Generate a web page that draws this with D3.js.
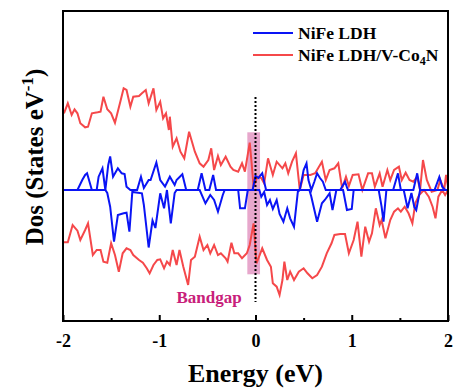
<!DOCTYPE html>
<html><head><meta charset="utf-8">
<script src="https://cdn.jsdelivr.net/npm/d3@7"></script>
<style>body{margin:0;background:#fff}svg{display:block}text{font-family:"Liberation Serif","Times New Roman",serif;font-weight:bold}</style>
</head><body><div id="chart"></div>
<script>
// Energy (eV), DOS (arb. units)
const redUp = [[-1.99,7.67],[-1.95,8.67],[-1.91,7.5],[-1.88,8.07],[-1.85,7.67],[-1.82,6.67],[-1.77,6.27],[-1.74,6.33],[-1.70,7.67],[-1.64,7.77],[-1.61,7.83],[-1.58,9.33],[-1.54,8.07],[-1.50,7.67],[-1.46,6.73],[-1.40,9.0],[-1.37,10.17],[-1.34,10.0],[-1.30,8.33],[-1.27,9.33],[-1.21,9.4],[-1.18,9.67],[-1.14,10.0],[-1.11,8.67],[-1.06,10.17],[-1.03,8.0],[-0.99,8.83],[-0.96,7.17],[-0.93,7.67],[-0.90,6.0],[-0.89,7.33],[-0.86,4.33],[-0.82,5.17],[-0.78,3.83],[-0.74,3.17],[-0.69,5.83],[-0.66,4.83],[-0.63,3.83],[-0.58,2.67],[-0.54,2.33],[-0.49,3.0],[-0.46,4.17],[-0.43,2.0],[-0.39,3.4],[-0.36,2.5],[-0.31,3.33],[-0.26,2.33],[-0.23,2.0],[-0.18,1.83],[-0.14,2.67],[-0.11,1.83],[-0.06,4.73],[-0.04,2.67],[-0.02,0.33],[0.02,1.33],[0.06,1.2],[0.09,0.67],[0.13,3.17],[0.18,1.5],[0.22,2.83],[0.28,2.17],[0.31,2.67],[0.34,1.67],[0.38,2.83],[0.42,3.67],[0.46,0],[0.50,1.5],[0.57,1.5],[0.62,1.67],[0.69,2.83],[0.73,1.0],[0.77,2.0],[0.82,2.17],[0.86,2.67],[0.90,0.17],[0.94,1.33],[0.97,0.4],[1.01,1.5],[1.07,1.57],[1.11,0],[1.17,1.67],[1.21,1.67],[1.24,0.33],[1.29,1.67],[1.32,0.33],[1.37,2.0],[1.40,1.0],[1.44,2.0],[1.49,2.33],[1.52,1.0],[1.56,1.73],[1.60,1.0],[1.64,0.83],[1.68,1.33],[1.71,0],[1.74,3.0],[1.78,1.0],[1.83,-0.17],[1.89,0],[1.92,1.0],[1.96,0],[1.98,1.5],[2.00,0.33]];
const redDown = [[-1.99,-5.23],[-1.95,-5.23],[-1.90,-3.5],[-1.85,-4.07],[-1.82,-5.0],[-1.77,-4.0],[-1.74,-3.33],[-1.69,-6.5],[-1.65,-6.0],[-1.61,-6.0],[-1.58,-7.17],[-1.54,-7.27],[-1.50,-5.33],[-1.46,-6.5],[-1.42,-8.17],[-1.38,-6.33],[-1.34,-5.83],[-1.30,-6.0],[-1.27,-6.5],[-1.21,-7.0],[-1.17,-7.27],[-1.13,-7.83],[-1.10,-8.33],[-1.06,-7.5],[-1.02,-7.0],[-0.99,-6.93],[-0.95,-7.83],[-0.92,-7.17],[-0.89,-7.5],[-0.86,-6.0],[-0.82,-7.5],[-0.79,-6.0],[-0.75,-7.67],[-0.70,-9.5],[-0.67,-7.0],[-0.63,-6.67],[-0.58,-4.67],[-0.54,-6.0],[-0.50,-5.5],[-0.47,-6.33],[-0.43,-5.5],[-0.39,-6.5],[-0.36,-6.33],[-0.31,-6.83],[-0.29,-7.17],[-0.25,-5.27],[-0.22,-6.33],[-0.18,-6.33],[-0.14,-6.83],[-0.09,-6.33],[-0.06,-5.5],[-0.02,-3.33],[0.01,-7.33],[0.05,-6.33],[0.07,-5.83],[0.12,-7.0],[0.16,-7.67],[0.18,-9.33],[0.22,-9.67],[0.25,-10.5],[0.28,-9.0],[0.30,-7.17],[0.33,-9.0],[0.36,-8.17],[0.40,-9.0],[0.45,-8.17],[0.50,-7.83],[0.54,-8.33],[0.59,-8.83],[0.64,-8.5],[0.69,-7.67],[0.74,-6.33],[0.79,-5.33],[0.82,-4.5],[0.88,-4.4],[0.93,-4.4],[0.97,-6.33],[1.02,-5.0],[1.06,-3.17],[1.10,-6.67],[1.14,-3.67],[1.18,-5.17],[1.21,-4.33],[1.25,-1.83],[1.29,-3.5],[1.31,-3.0],[1.35,-4.83],[1.40,-3.0],[1.44,-2.17],[1.48,-1.83],[1.51,-2.17],[1.55,-1.67],[1.59,-2.33],[1.63,-3.33],[1.66,-1.33],[1.70,-0.5],[1.75,0],[1.80,-0.67],[1.84,-1.67],[1.87,-2.83],[1.90,-0.67],[1.94,0],[1.97,-0.5],[2.00,0]];
const blueUp = [[-2.00,0],[-1.85,0],[-1.80,1.0],[-1.77,1.5],[-1.75,1.67],[-1.70,0],[-1.65,0],[-1.63,1.33],[-1.59,2.17],[-1.56,0],[-1.53,2.5],[-1.51,3.35],[-1.48,1.33],[-1.43,2.17],[-1.39,1.67],[-1.36,1.6],[-1.34,0.33],[-1.30,0],[-1.23,0],[-1.19,1.33],[-1.16,0.2],[-1.11,1.0],[-1.09,1.0],[-1.03,2.75],[-0.99,1.0],[-0.94,0.35],[-0.89,1.33],[-0.84,0.5],[-0.82,1.0],[-0.76,1.57],[-0.72,0],[-0.60,0],[-0.56,1.67],[-0.52,0],[-0.48,0],[-0.44,1.5],[-0.41,0],[-0.03,0],[0.00,1.4],[0.03,1.2],[0.07,1.67],[0.11,0],[0.46,0],[0.50,2.0],[0.53,2.67],[0.55,1.0],[0.58,0],[0.61,0.8],[0.64,1.67],[0.67,1.2],[0.70,0.83],[0.73,0],[0.88,0],[0.93,0.83],[0.96,0],[1.43,0],[1.48,1.67],[1.51,0],[1.64,0],[1.68,1.67],[1.71,0],[1.86,0],[1.91,1.3],[1.94,0.33],[1.97,0],[2.00,0]];
const blueDown = [[-2.00,0],[-1.56,0],[-1.54,-0.3],[-1.51,-1.67],[-1.47,-5.17],[-1.43,-2.5],[-1.37,-2.33],[-1.34,-2.27],[-1.31,-4.17],[-1.28,-0.2],[-1.18,-0.33],[-1.16,-1.5],[-1.11,-5.75],[-1.07,-3.05],[-1.04,-3.8],[-0.99,-0.33],[-0.95,-1.83],[-0.92,0],[-0.88,-3.33],[-0.84,-0.3],[-0.82,0],[-0.58,0],[-0.52,-1.33],[-0.47,-0.5],[-0.43,-1.0],[-0.39,-2.17],[-0.34,-0.5],[-0.32,0],[-0.18,0],[-0.16,-1.83],[-0.11,-1.83],[-0.08,0],[0.04,0],[0.06,-0.67],[0.09,-0.2],[0.12,-1.5],[0.15,-1.0],[0.18,-1.9],[0.22,-1.0],[0.25,-2.4],[0.29,-3.17],[0.33,-1.83],[0.36,-2.83],[0.40,-3.67],[0.44,-0.17],[0.46,0],[0.56,0],[0.58,-0.67],[0.64,-3.17],[0.69,-1.33],[0.72,-1.0],[0.77,-0.33],[0.80,-2.0],[0.84,0],[0.91,0],[0.95,-2.0],[1.00,-1.9],[1.02,0],[1.28,0],[1.31,-1.67],[1.33,-3.17],[1.36,0],[1.54,0],[1.58,-1.83],[1.62,-0.3],[1.65,-1.7],[1.67,-2.0],[1.71,0],[2.00,0]];
const xTicks = [-2, -1, 0, 1, 2];
const xMinorTicks = [-1.5, -0.5, 0.5, 1.5];
const seriesNames = ["NiFe LDH", "NiFe LDH/V-Co4N"];
const seriesColors = ["#0a14f5", "#f5484a"];
const bandgapRange = [-0.085, 0.047];
const bandgapDos = [5.77, -8.43];
const fermiDos = [9.3, -11.2];

const W = 453, H = 390;
const m = {l: 63, r: 5, t: 11, b: 69};
const svg = d3.select("#chart").append("svg").attr("width", W).attr("height", H);
const x = d3.scaleLinear().domain([-2, 2]).range([m.l, W - m.r]);
const y = d3.scaleLinear().domain([-13.1, 17.9]).range([H - m.b, m.t]);

// bandgap bar
svg.append("rect")
  .attr("x", x(bandgapRange[0])).attr("width", x(bandgapRange[1]) - x(bandgapRange[0]))
  .attr("y", y(bandgapDos[0])).attr("height", y(bandgapDos[1]) - y(bandgapDos[0]))
  .attr("fill", "#d0509a").attr("fill-opacity", 0.5);

const line = d3.line().x(d => x(d[0])).y(d => y(d[1]));
const draw = (data, color) => svg.append("path").datum(data).attr("d", line)
  .attr("fill", "none").attr("stroke", color).attr("stroke-width", 2).attr("stroke-linejoin", "miter");

draw(redUp, seriesColors[1]);
draw(redDown, seriesColors[1]);
draw(blueUp, seriesColors[0]);
draw(blueDown, seriesColors[0]);

// Fermi level dotted line
svg.append("line").attr("x1", x(0)).attr("x2", x(0)).attr("y1", y(fermiDos[0])).attr("y2", y(fermiDos[1]))
  .attr("stroke", "#000").attr("stroke-width", 2).attr("stroke-dasharray", "2,2");

svg.append("text").attr("x", 209).attr("y", 303).attr("text-anchor", "middle")
  .attr("font-size", 17).attr("fill", "#c8207a").text("Bandgap");

// frame
svg.append("rect").attr("x", m.l).attr("y", m.t).attr("width", W - m.l - m.r).attr("height", H - m.t - m.b)
  .attr("fill", "none").attr("stroke", "#000").attr("stroke-width", 2);

// x axis
const xAxis = svg.append("g").attr("transform", `translate(0,${H - m.b})`)
  .call(d3.axisBottom(x).tickValues(xTicks).tickSize(-6).tickPadding(13).tickFormat(d3.format("d")));
xAxis.select(".domain").remove();
xAxis.selectAll("line").attr("stroke-width", 2);
xAxis.selectAll("text").attr("font-size", 18).attr("fill", "#000")
  .style("font-family", "'Liberation Serif', serif").style("font-weight", "bold").text(d => d < 0 ? "-" + Math.abs(d) : d);
const xMinor = svg.append("g").attr("transform", `translate(0,${H - m.b})`)
  .call(d3.axisBottom(x).tickValues(xMinorTicks).tickSize(-3).tickFormat(""));
xMinor.select(".domain").remove();
xMinor.selectAll("line").attr("stroke-width", 2);

svg.append("text").attr("x", x(0)).attr("y", 382).attr("text-anchor", "middle")
  .attr("font-size", 26).text("Energy (eV)");

const yl = svg.append("text").attr("transform", "translate(43,157) rotate(-90)").attr("text-anchor", "middle")
  .attr("font-size", 25);
yl.append("tspan").text("Dos (States eV");
yl.append("tspan").attr("dy", -10).attr("font-size", 17).text("-1");
yl.append("tspan").attr("dy", 10).text(")");

// legend
const lg = svg.append("g");
[0, 1].forEach(i => {
  const ly = 33 + i * 22;
  lg.append("line").attr("x1", 253).attr("x2", 293).attr("y1", ly).attr("y2", ly)
    .attr("stroke", seriesColors[i]).attr("stroke-width", 2);
});
lg.append("text").attr("x", 298).attr("y", 39).attr("font-size", 17.5).text(seriesNames[0]);
const t2 = lg.append("text").attr("x", 298).attr("y", 61).attr("font-size", 17.5);
t2.append("tspan").text("NiFe LDH/V-Co");
t2.append("tspan").attr("dy", 4).attr("font-size", 12).text("4");
t2.append("tspan").attr("dy", -4).text("N");
</script></body></html>
